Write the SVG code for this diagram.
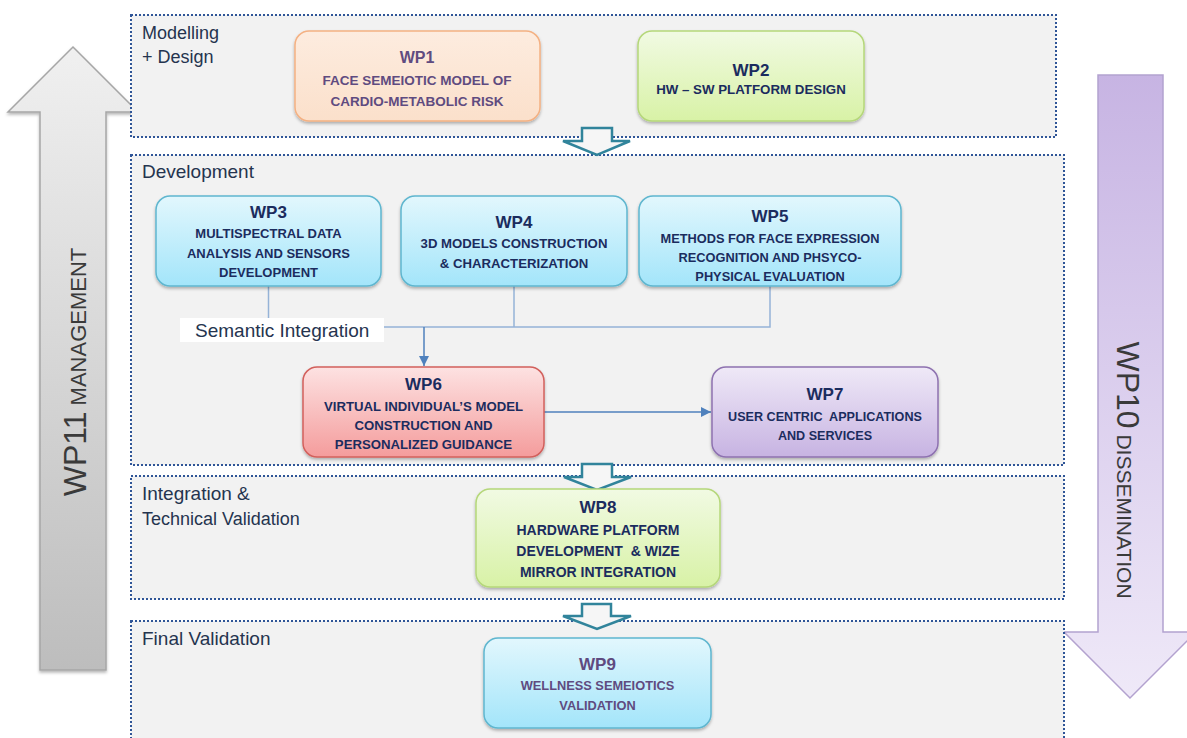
<svg xmlns="http://www.w3.org/2000/svg" width="1187" height="738" viewBox="0 0 1187 738">
<style>
.sec{fill:#f2f2f2;stroke:#2f5597;stroke-width:2;stroke-dasharray:2 2}
.slbl{font-family:"Liberation Sans",Arial,sans-serif;font-size:19px;fill:#25344f}
.hd{font-family:"Liberation Sans",Arial,sans-serif;font-weight:bold;font-size:17px;fill:#1b2c5e;text-anchor:middle}
.bd{font-family:"Liberation Sans",Arial,sans-serif;font-weight:bold;font-size:13px;fill:#1b2c5e;text-anchor:middle;white-space:pre}
.pur{fill:#5f4b80}
.node{stroke-width:1.5;filter:url(#sh)}
.conn{fill:none;stroke:#95b3d7;stroke-width:1.5}
.carr{fill:none;stroke:#4f81bd;stroke-width:1.5}
.hol{fill:#f6f6f6;stroke:#31849b;stroke-width:2.5;stroke-linejoin:miter}
.big{font-family:"Liberation Sans",Arial,sans-serif;fill:#3a3a3a}
</style>
<defs>
<filter id="sh" x="-10%" y="-10%" width="120%" height="130%">
<feDropShadow dx="0" dy="2" stdDeviation="1.5" flood-color="#000" flood-opacity="0.28"/>
</filter>
<linearGradient id="gPeach" x1="0" y1="0" x2="0" y2="1"><stop offset="0" stop-color="#fdecdf"/><stop offset="1" stop-color="#fbe0cb"/></linearGradient>
<linearGradient id="gGreen" x1="0" y1="0" x2="0" y2="1"><stop offset="0" stop-color="#f1fae3"/><stop offset="1" stop-color="#d8f2a6"/></linearGradient>
<linearGradient id="gCyan" x1="0" y1="0" x2="0" y2="1"><stop offset="0" stop-color="#e2f7fd"/><stop offset="1" stop-color="#a3e5fa"/></linearGradient>
<linearGradient id="gRed" x1="0" y1="0" x2="0" y2="1"><stop offset="0" stop-color="#fde2e2"/><stop offset="1" stop-color="#f49c9c"/></linearGradient>
<linearGradient id="gPurp" x1="0" y1="0" x2="0" y2="1"><stop offset="0" stop-color="#efe9f7"/><stop offset="1" stop-color="#c7b3e2"/></linearGradient>
<linearGradient id="gGray" x1="0" y1="0" x2="0" y2="1"><stop offset="0" stop-color="#f0f0f0"/><stop offset="1" stop-color="#bdbdbd"/></linearGradient>
<linearGradient id="gLav" x1="0" y1="0" x2="0" y2="1"><stop offset="0" stop-color="#c7b4e3"/><stop offset="1" stop-color="#efe9f8"/></linearGradient>
<marker id="ah" viewBox="0 0 10 10" refX="10" refY="5" markerWidth="10" markerHeight="11" markerUnits="userSpaceOnUse" orient="auto">
<path d="M0,0 L10,5 L0,10 z" fill="#4f81bd"/>
</marker>
</defs>

<!-- Side arrows -->
<g id="wp11">
<path d="M73,47 L138,112 L106,112 L106,670 L40,670 L40,112 L8,112 Z" fill="url(#gGray)" stroke="#a6a6a6" stroke-width="1.5" filter="url(#sh)"/>
<text class="big" transform="translate(86,372) rotate(-90)" text-anchor="middle"><tspan font-size="32">WP11</tspan><tspan font-size="22"> MANAGEMENT</tspan></text>
</g>
<g id="wp10">
<path d="M1098,75 L1163,75 L1163,632 L1196,632 L1130,698 L1064,632 L1098,632 Z" fill="url(#gLav)" stroke="#b3a2cf" stroke-width="1.5"/>
<text class="big" transform="translate(1117,470) rotate(90)" text-anchor="middle"><tspan font-size="32">WP10</tspan><tspan font-size="21"> DISSEMINATION</tspan></text>
</g>

<!-- Sections -->
<g id="sec-modelling">
<rect class="sec" x="131" y="15" width="925" height="122"/>
<text class="slbl" x="142" y="39" style="font-size:18px">Modelling</text>
<text class="slbl" x="142" y="63" style="font-size:18px">+ Design</text>
</g>
<g id="sec-development">
<rect class="sec" x="131" y="155" width="933" height="310"/>
<text class="slbl" x="142" y="178">Development</text>
</g>
<g id="sec-integration">
<rect class="sec" x="131" y="476" width="933" height="123"/>
<text class="slbl" x="142" y="500">Integration &amp;</text>
<text class="slbl" x="142" y="525" style="font-size:18px">Technical Validation</text>
</g>
<g id="sec-final">
<rect class="sec" x="131" y="621" width="933" height="130"/>
<text class="slbl" x="142" y="645">Final Validation</text>
</g>

<!-- Connectors -->
<g id="connectors">
<path class="conn" d="M268.5,286 V318"/>
<path class="conn" d="M514,286 V327"/>
<path class="conn" d="M770,286 V327 H384"/>
<path class="carr" d="M424,327 V366" marker-end="url(#ah)"/>
<path class="carr" d="M544,412 H711" marker-end="url(#ah)"/>
<path class="hol" d="M582,128 H612 V141 H630 L597,155 L563,141 H582 Z"/>
<path class="hol" d="M582,464 H612 V477 H631 L597,490 L564,477 H582 Z"/>
<path class="hol" d="M582,604 H611 V616 H631 L597,629 L563,616 H582 Z"/>
</g>

<g id="semantic-label">
<rect x="180" y="318" width="204" height="24" fill="#ffffff"/>
<text class="slbl" x="195" y="337">Semantic Integration</text>
</g>

<!-- Nodes -->
<g id="WP1">
<rect class="node" x="295" y="31" width="245" height="90" rx="14" fill="url(#gPeach)" stroke="#f4b183"/>
<text class="hd pur" x="417" y="63" style="font-size:16px">WP1</text>
<text class="bd pur" x="417" y="85" style="font-size:13.5px">FACE SEMEIOTIC MODEL OF</text>
<text class="bd pur" x="417" y="106" style="font-size:13.5px">CARDIO-METABOLIC RISK</text>
</g>
<g id="WP2">
<rect class="node" x="638" y="31" width="226" height="90" rx="14" fill="url(#gGreen)" stroke="#b5d77a"/>
<text class="hd" x="751" y="76">WP2</text>
<text class="bd" x="751" y="94" style="font-size:13.3px">HW – SW PLATFORM DESIGN</text>
</g>
<g id="WP3">
<rect class="node" x="156" y="196" width="225" height="90" rx="14" fill="url(#gCyan)" stroke="#5fb6cf"/>
<text class="hd" x="268.5" y="218">WP3</text>
<text class="bd" x="268.5" y="238">MULTISPECTRAL DATA</text>
<text class="bd" x="268.5" y="258">ANALYSIS AND SENSORS</text>
<text class="bd" x="268.5" y="277">DEVELOPMENT</text>
</g>
<g id="WP4">
<rect class="node" x="401" y="196" width="226" height="90" rx="14" fill="url(#gCyan)" stroke="#5fb6cf"/>
<text class="hd" x="514" y="228">WP4</text>
<text class="bd" x="514" y="248" style="font-size:13.2px">3D MODELS CONSTRUCTION</text>
<text class="bd" x="514" y="268" style="font-size:13.2px">&amp; CHARACTERIZATION</text>
</g>
<g id="WP5">
<rect class="node" x="639" y="196" width="262" height="90" rx="14" fill="url(#gCyan)" stroke="#5fb6cf"/>
<text class="hd" x="770" y="222">WP5</text>
<text class="bd" x="770" y="243" style="font-size:12.8px">METHODS FOR FACE EXPRESSION</text>
<text class="bd" x="770" y="262" style="font-size:12.8px">RECOGNITION AND PHSYCO-</text>
<text class="bd" x="770" y="281" style="font-size:12.8px">PHYSICAL EVALUATION</text>
</g>
<g id="WP6">
<rect class="node" x="303" y="367" width="241" height="90" rx="14" fill="url(#gRed)" stroke="#d2605c"/>
<text class="hd" x="423.5" y="390">WP6</text>
<text class="bd" x="423.5" y="411" style="font-size:13.2px">VIRTUAL INDIVIDUAL’S MODEL</text>
<text class="bd" x="423.5" y="430" style="font-size:13.2px">CONSTRUCTION AND</text>
<text class="bd" x="423.5" y="449" style="font-size:13.2px">PERSONALIZED GUIDANCE</text>
</g>
<g id="WP7">
<rect class="node" x="712" y="367" width="226" height="90" rx="14" fill="url(#gPurp)" stroke="#8e72b0"/>
<text class="hd" x="825" y="400">WP7</text>
<text class="bd" x="825" y="421" style="font-size:12.6px">USER CENTRIC  APPLICATIONS</text>
<text class="bd" x="825" y="440" style="font-size:12.6px">AND SERVICES</text>
</g>
<g id="WP8">
<rect class="node" x="476" y="489" width="244" height="98" rx="14" fill="url(#gGreen)" stroke="#b5d77a"/>
<text class="hd" x="598" y="513">WP8</text>
<text class="bd" x="598" y="535" style="font-size:14px">HARDWARE PLATFORM</text>
<text class="bd" x="598" y="556" style="font-size:14px">DEVELOPMENT  &amp; WIZE</text>
<text class="bd" x="598" y="577" style="font-size:14px">MIRROR INTEGRATION</text>
</g>
<g id="WP9">
<rect class="node" x="484" y="638" width="227" height="90" rx="14" fill="url(#gCyan)" stroke="#5fb6cf"/>
<text class="hd pur" x="597.5" y="670">WP9</text>
<text class="bd pur" x="597.5" y="690" style="font-size:12.8px">WELLNESS SEMEIOTICS</text>
<text class="bd pur" x="597.5" y="710" style="font-size:12.8px">VALIDATION</text>
</g>
</svg>
